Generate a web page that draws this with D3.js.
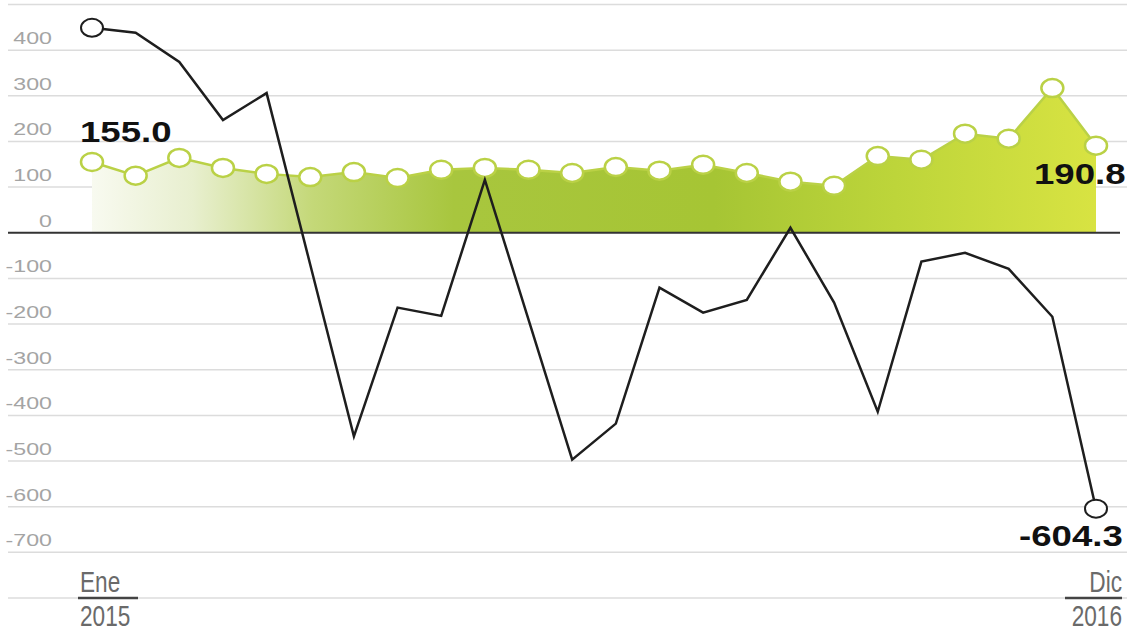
<!DOCTYPE html>
<html>
<head>
<meta charset="utf-8">
<script src="https://cdn.jsdelivr.net/npm/d3@7"></script>
<style>
  html, body { margin: 0; padding: 0; background: #fff; }
  svg { display: block; }
</style>
</head>
<body>
<svg id="chart" width="1127" height="633"></svg>
<script>
// monthly data, Ene 2015 .. Dic 2016
const months = ["2015-01","2015-02","2015-03","2015-04","2015-05","2015-06","2015-07","2015-08","2015-09","2015-10","2015-11","2015-12",
                "2016-01","2016-02","2016-03","2016-04","2016-05","2016-06","2016-07","2016-08","2016-09","2016-10","2016-11","2016-12"];
const greenValues = [155.0, 125, 164, 142, 129, 122, 133, 120, 138, 142, 138, 131,
                     144, 136, 149, 131, 112, 103, 168, 160, 217, 206, 317, 190.8];
const blackValues = [449, 438, 374, 247, 306, -70, -446, -164, -182, 116, -190, -497,
                     -418, -120, -175, -147, 11, -153, -392, -63, -44, -79, -184, -604.3];
const gridTicks = d3.range(-800, 501, 100);
const labelTicks = d3.range(-700, 401, 100);
const startLabels = ["Ene", "2015"];
const endLabels = ["Dic", "2016"];

const svg = d3.select("#chart");
const W = 1127;

const x = d3.scalePoint().domain(months).range([92, 1096]);
const y = d3.scaleLinear().domain([-800, 500]).range([598, 4.5]);

const sans = "'Liberation Sans', Arial, sans-serif";

// gradient for the area
const defs = svg.append("defs");
const grad = defs.append("linearGradient")
  .attr("id", "areaGrad")
  .attr("gradientUnits", "userSpaceOnUse")
  .attr("x1", x(months[0])).attr("x2", x(months[months.length - 1]))
  .attr("y1", 0).attr("y2", 0);
[
  [0, "#f8faf0"], [0.1, "#e8efcf"], [0.22, "#c4d878"], [0.36, "#a8c63e"],
  [0.62, "#a6c534"], [0.8, "#bdd53a"], [1, "#d8e342"]
].forEach(s => grad.append("stop").attr("offset", s[0]).attr("stop-color", s[1]));

// gridlines
svg.append("g").selectAll("line")
  .data(gridTicks.filter(d => d !== 0))
  .enter().append("line")
  .attr("x1", 8).attr("x2", W)
  .attr("y1", d => y(d)).attr("y2", d => y(d))
  .style("stroke", "#dcdcdc")
  .style("stroke-width", 1.5);

// tick labels (sit above their gridline)
svg.append("g").selectAll("text")
  .data(labelTicks)
  .enter().append("text")
  .attr("transform", d => `translate(52,${y(d) - 6}) scale(1.45,1)`)
  .style("text-anchor", "end")
  .style("font-family", sans)
  .style("font-size", "16px")
  .style("fill", "#a4a4a4")
  .text(d => d);

// green area
const area = d3.area()
  .x((d, i) => x(months[i]))
  .y0(y(0))
  .y1(d => y(d));
svg.append("path")
  .datum(greenValues)
  .attr("d", area)
  .style("fill", "url(#areaGrad)");

// zero line
svg.append("line")
  .attr("x1", 8).attr("x2", 1120)
  .attr("y1", y(0)).attr("y2", y(0))
  .style("stroke", "#333")
  .style("stroke-width", 2);

// green line + markers
const line = d3.line().x((d, i) => x(months[i])).y(d => y(d));
svg.append("path")
  .datum(greenValues)
  .attr("d", line)
  .style("fill", "none")
  .style("stroke", "#bad146")
  .style("stroke-width", 2.5);

svg.append("g").selectAll("ellipse")
  .data(greenValues)
  .enter().append("ellipse")
  .attr("cx", (d, i) => x(months[i]))
  .attr("cy", d => y(d))
  .attr("rx", 11).attr("ry", 9)
  .style("fill", "#fff")
  .style("stroke", "#bad146")
  .style("stroke-width", 2.5);

// black line
svg.append("path")
  .datum(blackValues)
  .attr("d", line)
  .style("fill", "none")
  .style("stroke", "#1e1e1e")
  .style("stroke-width", 2.5)
  .style("stroke-linejoin", "miter");

const ends = [0, blackValues.length - 1];
svg.append("g").selectAll("ellipse")
  .data(ends)
  .enter().append("ellipse")
  .attr("cx", i => x(months[i]))
  .attr("cy", i => y(blackValues[i]))
  .attr("rx", 11).attr("ry", 9)
  .style("fill", "#fff")
  .style("stroke", "#1e1e1e")
  .style("stroke-width", 2);

// value labels
const valueLabels = [
  { text: greenValues[0].toFixed(1), x: 80, y: 142 },
  { text: greenValues[greenValues.length - 1].toFixed(1), x: 1034, y: 184 },
  { text: blackValues[blackValues.length - 1].toFixed(1), x: 1019, y: 546 }
];
svg.append("g").selectAll("text")
  .data(valueLabels)
  .enter().append("text")
  .attr("transform", d => `translate(${d.x},${d.y}) scale(1.22,1)`)
  .style("font-family", sans)
  .style("font-weight", "bold")
  .style("font-size", "30px")
  .style("fill", "#111")
  .text(d => d.text);

// bottom date labels (condensed)
function dateLabel(labels, xLeft, xRight, anchor) {
  const g = svg.append("g");
  const tx = anchor === "start" ? xLeft + 2 : xRight;
  [[labels[0], 592], [labels[1], 626]].forEach(([t, ty]) => {
    g.append("text")
      .attr("transform", `translate(${tx},${ty}) scale(0.78,1)`)
      .style("text-anchor", anchor)
      .style("font-family", sans)
      .style("font-size", "29px")
      .style("fill", "#6a6a6a")
      .text(t);
  });
  g.append("line")
    .attr("x1", xLeft).attr("x2", xRight)
    .attr("y1", 598).attr("y2", 598)
    .style("stroke", "#444")
    .style("stroke-width", 2.5);
}
dateLabel(startLabels, 78, 138, "start");
dateLabel(endLabels, 1065, 1122, "end");
</script>
</body>
</html>
